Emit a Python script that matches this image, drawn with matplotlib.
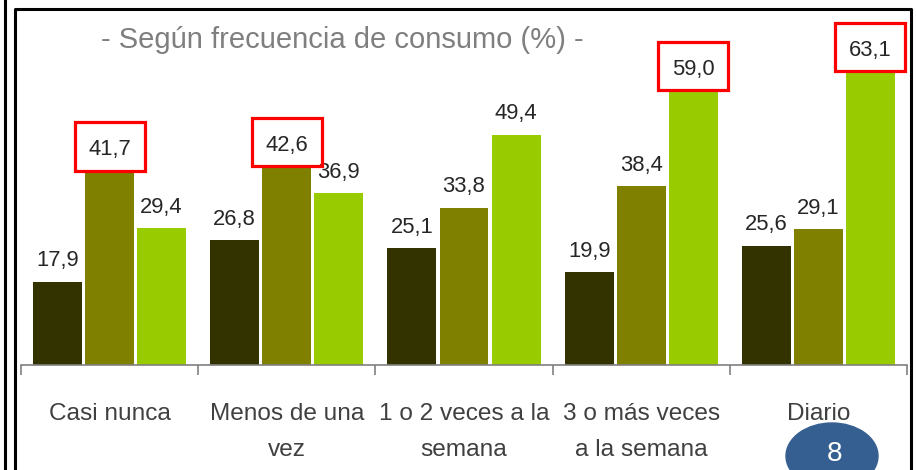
import matplotlib
matplotlib.use("Agg")
import matplotlib.pyplot as plt
from matplotlib.patches import Rectangle, Ellipse
from matplotlib.lines import Line2D
import numpy as np

# data
categories = ["Casi nunca", "Menos de una\nvez", "1 o 2 veces a la\nsemana",
              "3 o más veces\na la semana", "Diario"]
serie_1 = [17.9, 26.8, 25.1, 19.9, 25.6]
serie_2 = [41.7, 42.6, 33.8, 38.4, 29.1]
serie_3 = [29.4, 36.9, 49.4, 59.0, 63.1]
# (series index, category index) of values highlighted with a red box
highlighted = [(1, 0), (1, 1), (2, 3), (2, 4)]

colors = ["#333300", "#808000", "#99CC00"]
font = "Liberation Sans"

W, H = 916, 470
fig = plt.figure(figsize=(W / 100, H / 100), dpi=100)
ax = fig.add_axes([21 / W, 105 / H, 886 / W, 356 / H])

x = np.arange(len(categories))
offset = 0.2935
width = 0.2765
series = [serie_1, serie_2, serie_3]

for k, vals in enumerate(series):
    xs = x + (k - 1) * offset
    ax.bar(xs, vals, width=width, color=colors[k], linewidth=0)
    for i, v in enumerate(vals):
        ax.text(xs[i], v + 3.3, f"{v:.1f}".replace(".", ","), ha="center",
                va="baseline", fontsize=15.8, color="#262626", family=font)
        if (k, i) in highlighted:
            ax.add_patch(Rectangle((xs[i] - 0.198, v), 0.396, 10.4, fill=False,
                                   edgecolor="#FF0000", linewidth=2.3,
                                   clip_on=False, zorder=5))

ax.set_xlim(-0.5, len(categories) - 0.5)
ax.set_ylim(0, 76.4)
for s in ["top", "right", "left"]:
    ax.spines[s].set_visible(False)
ax.spines["bottom"].set_color("#808080")
ax.spines["bottom"].set_linewidth(1.2)
ax.set_yticks([])
ax.set_xticks(np.arange(-0.5, len(categories), 1.0))
ax.set_xticklabels([])
ax.tick_params(axis="x", length=7, width=1.2, color="#808080", direction="out")

tr = ax.get_xaxis_transform()
for i, lab in enumerate(categories):
    for j, line in enumerate(lab.split("\n")):
        ax.text(i, -(55 + 36 * j) / 356, line, transform=tr, ha="center",
                va="baseline", fontsize=17.6, color="#404040", family=font)

fig.text(342 / W, 1 - 48 / H, "- Según frecuencia de consumo (%) -",
         ha="center", va="baseline", fontsize=21, color="#7F7F7F", family=font)

# frame lines
fig.add_artist(Line2D([5 / W, 5 / W], [0, 1], color="black", linewidth=2.2))
fig.add_artist(Line2D([15 / W, 15 / W, 911 / W, 911 / W],
                      [0, 1 - 9 / H, 1 - 9 / H, 0], color="black", linewidth=2.2))

# page number badge
fig.add_artist(Ellipse((832 / W, 1 - 456 / H), 92 / W, 66 / H,
                       transform=fig.transFigure, color="#365F91"))
fig.text(835 / W, 1 - 454 / H, "8", ha="center", va="center", fontsize=20,
         color="white", family=font)

fig.savefig("out.png", dpi=100)
